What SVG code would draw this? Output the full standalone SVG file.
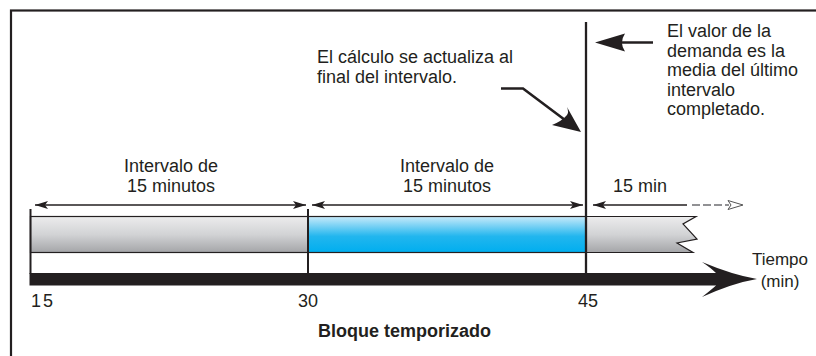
<svg xmlns="http://www.w3.org/2000/svg" width="816" height="356" viewBox="0 0 816 356">
<style>
text{font-family:"Liberation Sans",Arial,sans-serif;font-size:18px;fill:#231f20}
.b{font-weight:bold}
.m{text-anchor:middle}
.ln{stroke:#231f20;fill:none}
.dim{stroke:#231f20;stroke-width:1.3;fill:none}
.ah{fill:#231f20}
.seg{stroke:#231f20;stroke-width:1.2}
</style>
<defs>
<linearGradient id="gGray" x1="0" y1="0" x2="0" y2="1">
<stop offset="0" stop-color="#ececed"/>
<stop offset="0.5" stop-color="#d2d3d5"/>
<stop offset="1" stop-color="#a4a5a8"/>
</linearGradient>
<linearGradient id="gBlue" x1="0" y1="0" x2="0" y2="1">
<stop offset="0" stop-color="#c8eafa"/>
<stop offset="0.55" stop-color="#22b6ee"/>
<stop offset="1" stop-color="#00aeef"/>
</linearGradient>
<path id="ah" d="M0,0 L-13,-4 L-10,0 L-13,4 Z"/>
</defs>
<rect width="816" height="356" fill="#fff"/>
<rect id="frame" x="11" y="10.5" width="830" height="370" fill="none" stroke="#231f20" stroke-width="2.2"/>

<g id="interval1">
<rect x="30.5" y="216.5" width="277.5" height="36" fill="url(#gGray)" class="seg"/>
<text class="m" x="171" y="172">Intervalo de</text>
<text class="m" x="171" y="192">15 minutos</text>
</g>
<g id="interval2">
<rect x="308" y="216.5" width="278" height="36" fill="url(#gBlue)" class="seg"/>
<text class="m" x="447" y="172">Intervalo de</text>
<text class="m" x="447" y="192">15 minutos</text>
</g>
<g id="interval3">
<path d="M586,216.5 L696,216.5 L683,224 L697,239 L677,243 L693,252.5 L586,252.5 Z" fill="url(#gGray)" stroke="none"/>
<path d="M586,216.5 L696,216.5 L683,224 L697,239 L677,243 L693,252.5 L586,252.5" class="seg" fill="none" stroke-width="1"/>
<text class="m" x="640" y="192">15 min</text>
</g>

<g id="timeline">
<rect x="29.5" y="273" width="690" height="12.5" fill="#231f20"/>
<path d="M716,273 Q711,268 702,262 Q733,275 757,279 Q733,283 702,297 Q711,290 716,285.5 Z" fill="#231f20"/>
<text class="m" x="780" y="265" style="font-size:17px">Tiempo</text>
<text class="m" x="780" y="287" style="font-size:17px">(min)</text>
<text x="31" y="307" letter-spacing="2">15</text>
<text x="298" y="307">30</text>
<text x="578" y="307">45</text>
<text class="b m" x="404.5" y="337">Bloque temporizado</text>
</g>

<g id="ticks">
<line x1="30.5" y1="209" x2="30.5" y2="274" class="ln" stroke-width="2"/>
<line x1="308" y1="209" x2="308" y2="274" class="ln" stroke-width="2"/>
<line x1="586" y1="22" x2="586" y2="274" class="ln" stroke-width="2.3"/>
</g>

<g id="note-calc">
<text x="317" y="63">El cálculo se actualiza al</text>
<text x="317" y="83">final del intervalo.</text>
</g>
<g id="note-demand">
<text x="667" y="37">El valor de la</text>
<text x="667" y="56.5">demanda es la</text>
<text x="667" y="76">media del último</text>
<text x="667" y="95.5">intervalo</text>
<text x="667" y="115">completado.</text>
</g>

<g id="connectors">
<line x1="35" y1="205" x2="306" y2="205" class="dim"/>
<use href="#ah" transform="translate(35,205) scale(-1,1)" class="ah"/>
<use href="#ah" transform="translate(306,205)" class="ah"/>
<line x1="312" y1="205" x2="583" y2="205" class="dim"/>
<use href="#ah" transform="translate(312,205) scale(-1,1)" class="ah"/>
<use href="#ah" transform="translate(583,205)" class="ah"/>
<line x1="593" y1="205" x2="687" y2="205" class="dim"/>
<use href="#ah" transform="translate(593,205) scale(-1,1)" class="ah"/>
<line x1="692" y1="205" x2="729" y2="205" stroke="#6d6e71" stroke-width="1.5" stroke-dasharray="8,3"/>
<path d="M743,205 L728,200.5 L731,205 L728,209.5 Z" fill="#fff" stroke="#555" stroke-width="1"/>
<polyline points="501,88.5 523,88.5 567,121.5" class="ln" stroke-width="2.6"/>
<path d="M581,132 L552,125 Q562,121 567,115 Q569,112 567,107 Z" fill="#231f20"/>
<line x1="653" y1="42.5" x2="615" y2="42.5" class="ln" stroke-width="2.6"/>
<path d="M595,42.5 L625,33.5 Q619,42.5 625,51.5 Z" fill="#231f20"/>
</g>
</svg>
